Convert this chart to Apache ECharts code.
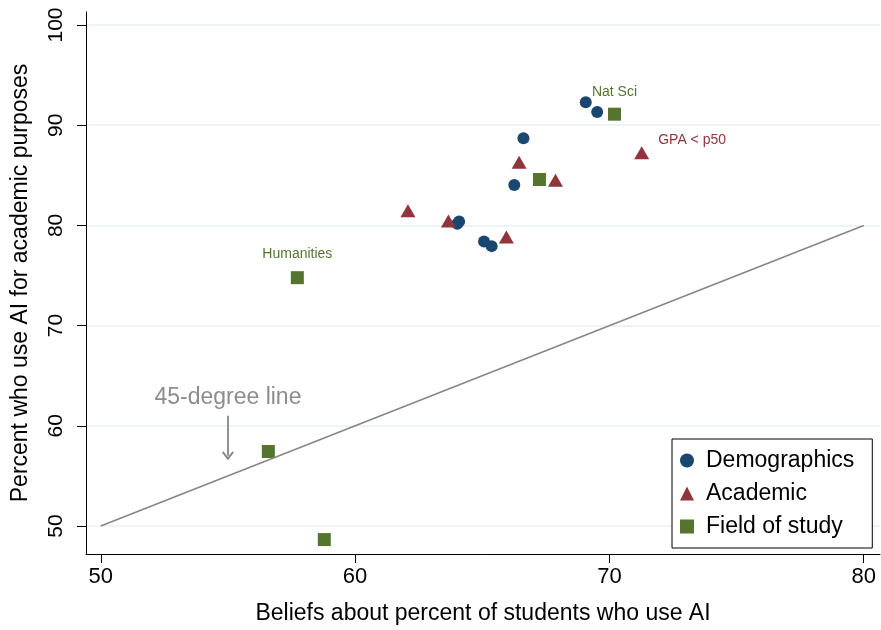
<!doctype html>
<html lang="en">
<head>
    <meta charset="utf-8">
    <title>AI use vs beliefs</title>
    <style>
        html, body { margin: 0; padding: 0; background: #fff; }
        #chart { width: 881px; height: 630px; }
    </style>
</head>
<body>
    <div id="chart"></div>
    <script src="https://cdn.jsdelivr.net/npm/echarts@6/dist/echarts.min.js"></script>
    <script>
        // values
        var demoX = [69.07, 69.52, 66.62, 66.26, 64.09, 64.02, 65.07, 65.37];
        var demoY = [92.3, 91.33, 88.7, 84.04, 80.4, 80.17, 78.4, 77.93];

        var acadX = [71.27, 66.45, 67.88, 62.08, 63.67, 65.95];
        var acadY = [87.24, 86.3, 84.5, 81.45, 80.43, 78.83];
        var acadLabels = ['GPA < p50', '', '', '', '', ''];

        var fieldX = [70.2, 67.25, 57.73, 56.59, 58.79];
        var fieldY = [91.1, 84.58, 74.78, 57.43, 48.64];
        var fieldLabels = ['Nat Sci', '', 'Humanities', '', ''];

        var xTicks = [50, 60, 70, 80];
        var yTicks = [50, 60, 70, 80, 90, 100];
        var refLine = [[50, 50], [80, 80]];
        var arrowFrom = [55, 61];
        var arrowTo = [55, 57];

        var NAVY = '#1a476f', MAROON = '#90353b', GREEN = '#55752f';
        var FONT = 'Liberation Sans, Arial, Helvetica, sans-serif';

        function pts(xs, ys) {
            return xs.map(function (x, i) { return [x, ys[i]]; });
        }
        function labelled(xs, ys, labels, labelCfg) {
            return xs.map(function (x, i) {
                var item = { value: [x, ys[i]] };
                if (labels[i]) {
                    item.label = Object.assign({ show: true, formatter: labels[i] }, labelCfg[labels[i]]);
                }
                return item;
            });
        }

        var chart = echarts.init(document.getElementById('chart'));
        chart.setOption({
            animation: false,
            backgroundColor: '#fff',
            textStyle: { fontFamily: FONT },
            grid: { left: 86, right: 1, top: 12, bottom: 76 },
            legend: {
                orient: 'vertical',
                left: 672,
                top: 439,
                padding: [10, 18, 10, 8],
                itemGap: 10,
                itemWidth: 14,
                itemHeight: 14,
                backgroundColor: '#fff',
                borderColor: '#000',
                borderWidth: 1,
                z: 10,
                textStyle: { fontSize: 23, color: '#000', fontFamily: FONT, lineHeight: 22, padding: [0, 0, 0, 7] },
                data: [
                    { name: 'Demographics', icon: 'circle' },
                    { name: 'Academic', icon: 'triangle' },
                    { name: 'Field of study', icon: 'rect' }
                ]
            },
            xAxis: {
                type: 'value',
                min: 49.42,
                max: 80.64,
                name: 'Beliefs about percent of students who use AI',
                nameLocation: 'middle',
                nameGap: 48,
                nameTextStyle: { fontSize: 23, color: '#000', fontFamily: FONT },
                axisLine: { lineStyle: { color: '#000', width: 1 } },
                axisTick: { show: true, length: 9, customValues: xTicks, lineStyle: { color: '#000' } },
                axisLabel: { customValues: xTicks, fontSize: 22, color: '#000', margin: 12, fontFamily: FONT },
                splitLine: { show: false }
            },
            yAxis: {
                type: 'value',
                min: 47.2,
                max: 101.3,
                name: 'Percent who use AI for academic purposes',
                nameLocation: 'middle',
                nameGap: 54,
                nameTextStyle: { fontSize: 23, color: '#000', fontFamily: FONT },
                axisLine: { show: true, lineStyle: { color: '#000', width: 1 } },
                axisTick: { show: true, length: 9, customValues: yTicks, lineStyle: { color: '#000' } },
                axisLabel: { customValues: yTicks, rotate: 90, fontSize: 21, color: '#000', margin: 19, fontFamily: FONT },
                splitLine: { show: true, lineStyle: { color: '#e8f0f3', width: 1.5 } }
            },
            series: [
                {
                    name: '45-degree',
                    type: 'line',
                    data: refLine,
                    symbol: 'none',
                    silent: true,
                    lineStyle: { color: '#868686', width: 1.6 },
                    markLine: {
                        silent: true,
                        symbol: ['none', 'path://M5,0 L10,6 L8.8,7 L5,2.6 L1.2,7 L0,6 Z'],
                        symbolSize: [12, 9],
                        lineStyle: { color: '#868686', width: 1.8, type: 'solid' },
                        label: {
                            show: true,
                            position: 'start',
                            formatter: '45-degree line',
                            color: '#8c8c8c',
                            fontSize: 23,
                            fontFamily: FONT,
                            distance: 7
                        },
                        data: [[{ coord: arrowFrom }, { coord: arrowTo }]]
                    }
                },
                {
                    name: 'Demographics',
                    type: 'scatter',
                    symbol: 'circle',
                    symbolSize: 12,
                    itemStyle: { color: NAVY, opacity: 1 },
                    data: pts(demoX, demoY)
                },
                {
                    name: 'Academic',
                    type: 'scatter',
                    symbol: 'triangle',
                    symbolSize: [15, 13],
                    itemStyle: { color: MAROON, opacity: 1 },
                    data: labelled(acadX, acadY, acadLabels, {
                        'GPA < p50': { position: 'right', distance: 5, offset: [4, -13], color: MAROON, fontSize: 14, fontFamily: FONT }
                    })
                },
                {
                    name: 'Field of study',
                    type: 'scatter',
                    symbol: 'rect',
                    symbolSize: 13,
                    itemStyle: { color: GREEN, opacity: 1 },
                    data: labelled(fieldX, fieldY, fieldLabels, {
                        'Nat Sci': { position: 'top', distance: 9, color: GREEN, fontSize: 14, fontFamily: FONT },
                        'Humanities': { position: 'top', distance: 10, color: GREEN, fontSize: 14, fontFamily: FONT }
                    })
                }
            ]
        });
    </script>
</body>
</html>
